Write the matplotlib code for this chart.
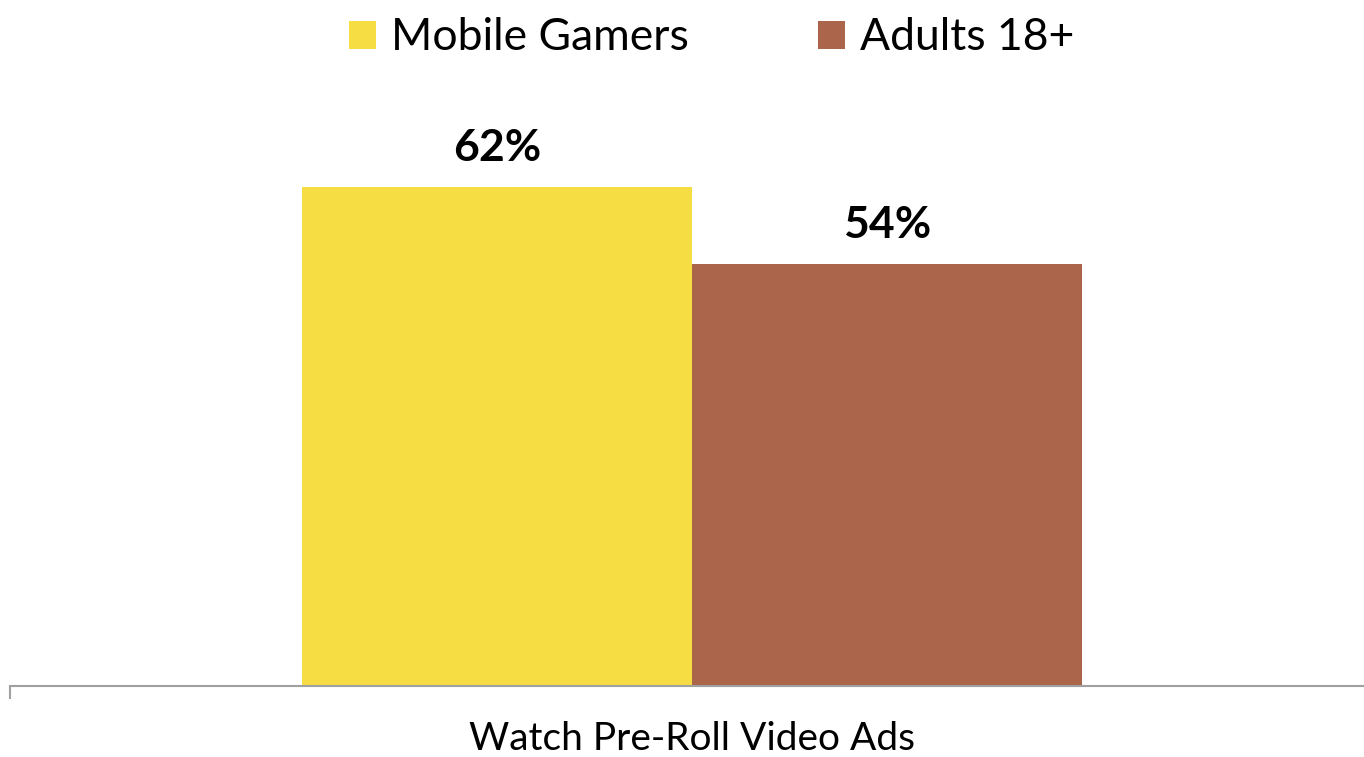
import matplotlib.pyplot as plt

categories = ['Watch Pre-Roll Video Ads']
series = ['Mobile Gamers', 'Adults 18+']
values = [62, 54]
colors = ['#F6DD43', '#AB654A']

plt.rcParams['font.family'] = ['Lato', 'DejaVu Sans']

fig = plt.figure(figsize=(13.64, 7.57), dpi=100)
ax = fig.add_axes([10 / 1364, 71 / 757, 1354 / 1364, 686 / 757])

offsets = [-0.5, 0.5]
for off, name, val, col in zip(offsets, series, values, colors):
    bars = ax.bar(0 + off, val, width=1.0, color=col, label=name)
    ax.bar_label(bars, labels=[f'{val}%'], padding=14, fontsize=32, fontweight='bold')

ax.set_xlim(-682 / 390, 672 / 390)
ax.set_ylim(10.16, 10.16 + 686 / 9.625)

ax.set_xticks([0])
ax.set_xticklabels(categories, fontsize=28)
ax.tick_params(axis='x', which='major', length=0, pad=25)
ax.set_xticks([ax.get_xlim()[0]], minor=True)
ax.tick_params(axis='x', which='minor', length=9.5, width=1.5, color='#A0A0A0', direction='out')
ax.set_yticks([])

for s in ['top', 'right', 'left']:
    ax.spines[s].set_visible(False)
ax.spines['bottom'].set_color('#A0A0A0')
ax.spines['bottom'].set_linewidth(1.5)

fig.legend(loc='upper center', bbox_to_anchor=(0.522, 1.03), ncol=2, frameon=False,
           fontsize=32, handlelength=0.6, handleheight=0.6, handletextpad=0.35,
           columnspacing=2.9)

fig.savefig('out.png', dpi=100)
